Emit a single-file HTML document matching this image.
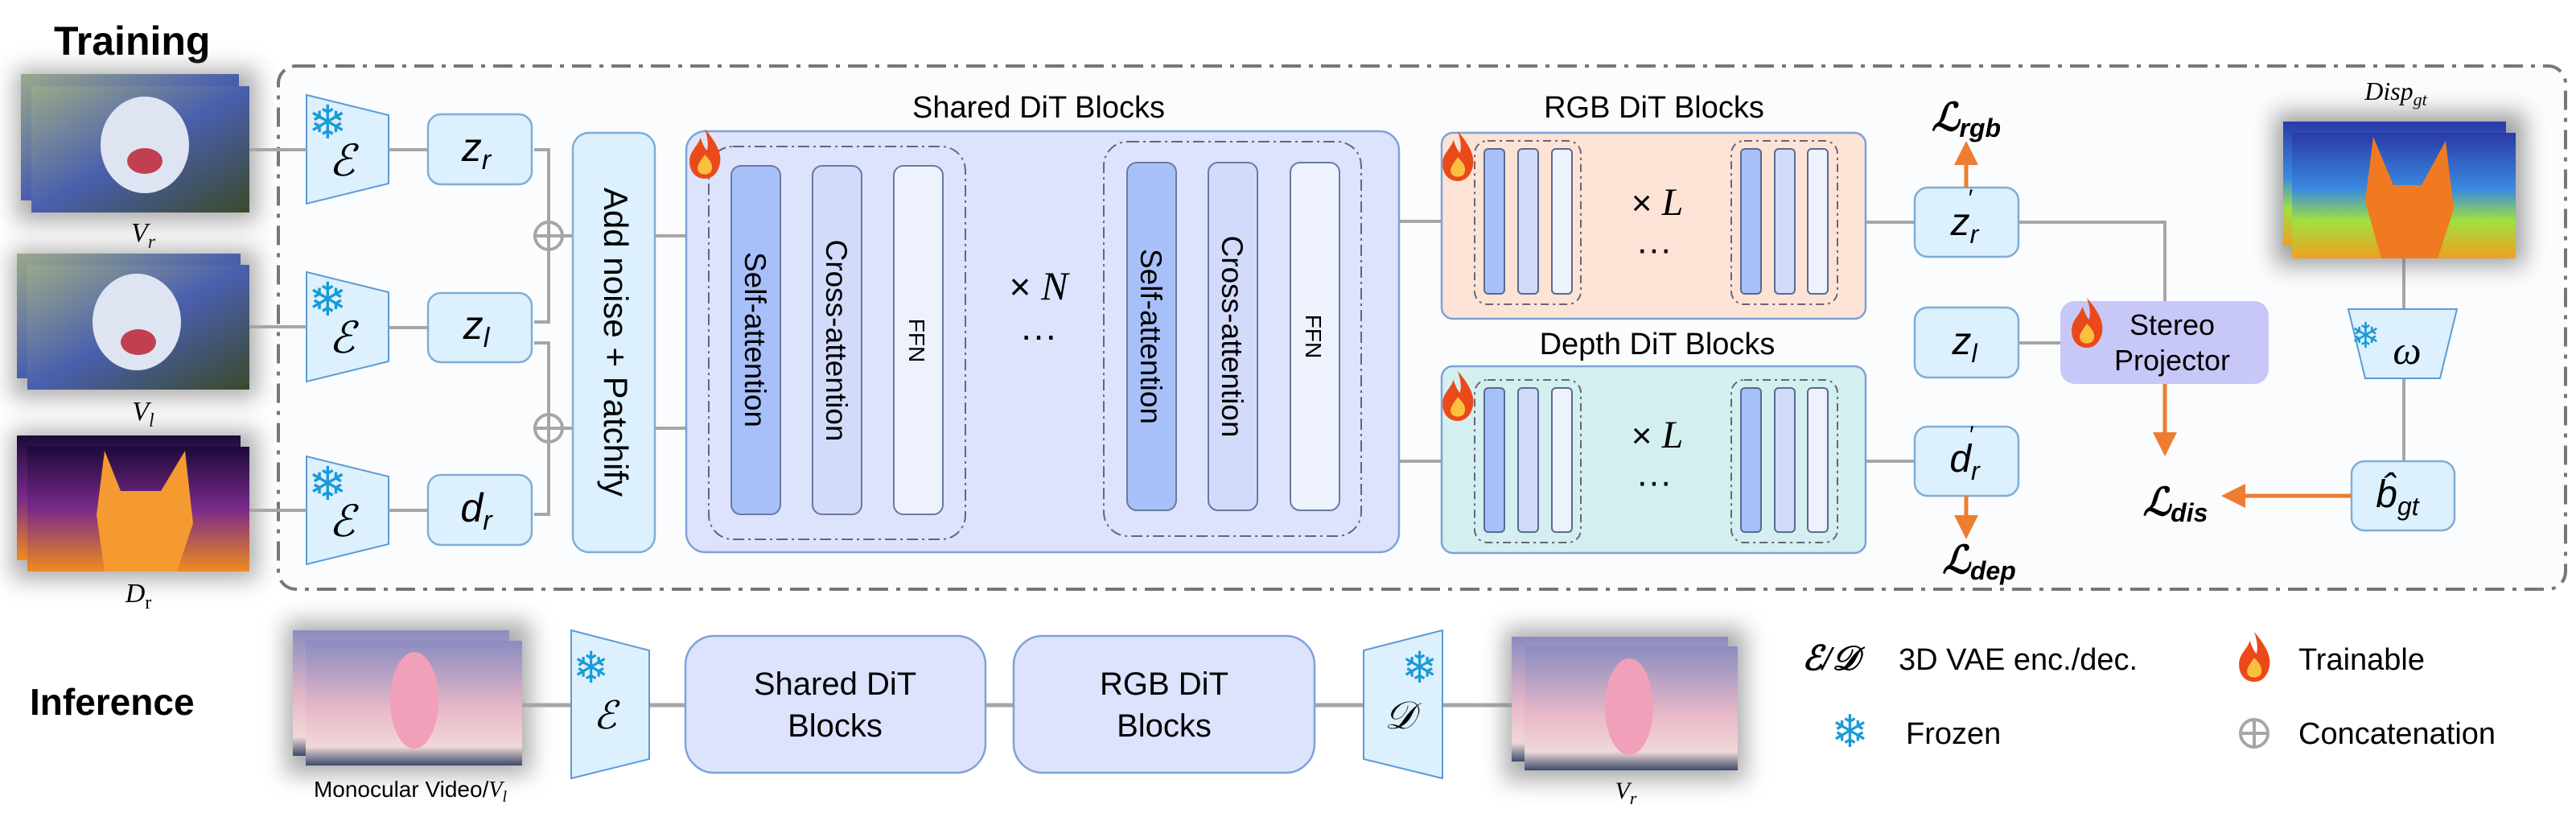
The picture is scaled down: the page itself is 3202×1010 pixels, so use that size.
<!DOCTYPE html>
<html><head><meta charset="utf-8"><style>
html,body{margin:0;padding:0;background:#fff;}
svg{display:block;}
text{font-family:"Liberation Sans",sans-serif;}
.m{font-family:"Liberation Serif","DejaVu Serif",serif;font-style:italic;}
</style></head><body>
<svg width="3202" height="1010" viewBox="0 0 3202 1010" xmlns="http://www.w3.org/2000/svg">
<defs>
<filter id="sh" x="-30%" y="-30%" width="160%" height="160%"><feGaussianBlur stdDeviation="14"/></filter>
<linearGradient id="cat" x1="0" y1="0" x2="1" y2="1"><stop offset="0" stop-color="#9aa98a"/><stop offset="0.5" stop-color="#4a5fae"/><stop offset="1" stop-color="#3a4a2a"/></linearGradient>
<linearGradient id="dep" x1="0" y1="0" x2="0" y2="1"><stop offset="0" stop-color="#1c0a3a"/><stop offset="0.5" stop-color="#7a2a8a"/><stop offset="1" stop-color="#f08a20"/></linearGradient>
<linearGradient id="disp" x1="0" y1="0" x2="0" y2="1"><stop offset="0" stop-color="#2a3aa8"/><stop offset="0.45" stop-color="#3a8ae0"/><stop offset="0.7" stop-color="#a0e040"/><stop offset="1" stop-color="#f0a020"/></linearGradient>
<linearGradient id="ani" x1="0" y1="0" x2="0" y2="1"><stop offset="0" stop-color="#8a8cc0"/><stop offset="0.55" stop-color="#e8b8c8"/><stop offset="0.85" stop-color="#f0d8d8"/><stop offset="1" stop-color="#3a4a6a"/></linearGradient>
<marker id="ar" markerWidth="6" markerHeight="6" refX="3" refY="3" orient="auto" markerUnits="strokeWidth"><path d="M0,0 L6,3 L0,6 Z" fill="#ed7d31"/></marker>
<g id="flame"><g transform="scale(1.35)"><path d="M0,-26 C10,-14 16,-4 14,6 C12,16 6,20 0,20 C-8,20 -14,14 -14,4 C-14,-6 -6,-10 -4,-18 C-2,-12 0,-8 2,-6 C4,-12 2,-20 0,-26Z" fill="#ea4a1a"/><path d="M0,-2 C6,4 8,8 6,13 C4,17 -4,17 -6,13 C-8,8 -4,4 0,-2Z" fill="#fcc040"/></g></g>
</defs>

<text x="67" y="68" font-size="50" font-weight="bold">Training</text>

<rect x="346" y="82" width="2843" height="650" rx="22" fill="#fbfcfe" stroke="#777" stroke-width="4" stroke-dasharray="24,10,5,10"/>

<g>
<rect x="20" y="86" width="300" height="190" fill="#888" filter="url(#sh)" opacity="0.7"/>
<rect x="26" y="92" width="271" height="157" fill="url(#cat)"/>
<rect x="39" y="107" width="271" height="157" fill="url(#cat)"/>
<ellipse cx="180" cy="180" rx="55" ry="60" fill="#dfe4f2"/><ellipse cx="180" cy="200" rx="22" ry="16" fill="#c04050"/>
<text x="178" y="300" font-size="34" class="m" font-style="normal" text-anchor="middle">V<tspan font-size="24" dy="8">r</tspan></text>

<rect x="15" y="310" width="305" height="185" fill="#888" filter="url(#sh)" opacity="0.7"/>
<rect x="21" y="315" width="278" height="155" fill="url(#cat)"/>
<rect x="34" y="329" width="276" height="155" fill="url(#cat)"/>
<ellipse cx="170" cy="400" rx="55" ry="60" fill="#dfe4f2"/><ellipse cx="172" cy="425" rx="22" ry="16" fill="#c04050"/>
<text x="178" y="522" font-size="34" class="m" font-style="normal" text-anchor="middle">V<tspan font-size="24" dy="8" font-style="italic">l</tspan></text>

<rect x="15" y="535" width="305" height="185" fill="#888" filter="url(#sh)" opacity="0.7"/>
<rect x="21" y="541" width="278" height="155" fill="url(#dep)"/>
<rect x="34" y="555" width="276" height="155" fill="url(#dep)"/>
<path d="M130,560 L150,610 L200,610 L230,560 L240,650 L220,710 L130,710 L120,640Z" fill="#f59a30"/>
<text x="172" y="748" font-size="34" class="m" text-anchor="middle">D<tspan font-size="24" dy="8" font-style="normal">r</tspan></text>
</g>

<g fill="#dcf0fd" stroke="#5b9bd5" stroke-width="2">
<path d="M381,118 L483,143 L483,228 L381,253Z"/>
<path d="M381,338 L483,363 L483,449 L381,474Z"/>
<path d="M381,567 L483,592 L483,676 L381,701Z"/>
</g>
<g font-size="58" fill="#1a9ad6">
<text x="383" y="172" font-family="DejaVu Sans,sans-serif">❄</text>
<text x="383" y="392" font-family="DejaVu Sans,sans-serif">❄</text>
<text x="383" y="621" font-family="DejaVu Sans,sans-serif">❄</text>
</g>
<g font-size="54" class="m" text-anchor="middle">
<text x="425" y="218">ℰ</text><text x="425" y="438">ℰ</text><text x="425" y="666">ℰ</text>
</g>

<g stroke="#a6a6a6" stroke-width="4" fill="none">
<line x1="310" y1="186" x2="381" y2="186"/>
<line x1="310" y1="406" x2="381" y2="406"/>
<line x1="310" y1="634" x2="381" y2="634"/>
<line x1="483" y1="186" x2="532" y2="186"/>
<line x1="483" y1="407" x2="532" y2="407"/>
<line x1="483" y1="634" x2="532" y2="634"/>
<polyline points="664,186 682,186 682,400 664,400"/>
<polyline points="664,426 682,426 682,639 664,639"/>
<line x1="699" y1="293" x2="712" y2="293"/>
<line x1="699" y1="532" x2="712" y2="532"/>
<circle cx="682" cy="293" r="17"/><line x1="665" y1="293" x2="699" y2="293"/>
<circle cx="682" cy="532" r="17"/><line x1="665" y1="532" x2="699" y2="532"/>
<line x1="814" y1="293" x2="909" y2="293"/>
<line x1="814" y1="532" x2="909" y2="532"/>
<line x1="1664" y1="275" x2="1845" y2="275"/>
<line x1="1664" y1="573" x2="1845" y2="573"/>
<line x1="2272" y1="276" x2="2380" y2="276"/>
<line x1="2272" y1="573" x2="2380" y2="573"/>
<polyline points="2509,276 2691,276 2691,374"/>
<line x1="2509" y1="426" x2="2561" y2="426"/>
<line x1="2988" y1="321" x2="2988" y2="384"/>
<line x1="2988" y1="470" x2="2988" y2="573"/>
</g>

<g fill="#dcf0fd" stroke="#7eaed8" stroke-width="2.5">
<rect x="532" y="142" width="129" height="87" rx="16"/>
<rect x="532" y="364" width="129" height="86" rx="16"/>
<rect x="532" y="590" width="129" height="87" rx="16"/>
<rect x="712" y="165" width="102" height="521" rx="20"/>
</g>
<g class="m" font-size="50" text-anchor="middle">
<text x="592" y="200">z<tspan font-size="34" dy="10">r</tspan></text>
<text x="592" y="421">z<tspan font-size="34" dy="10">l</tspan></text>
<text x="592" y="648">d<tspan font-size="34" dy="10">r</tspan></text>
</g>
<text transform="translate(751,425) rotate(90)" font-size="42" text-anchor="middle">Add noise + Patchify</text>

<text x="1291" y="146" font-size="38" text-anchor="middle">Shared DiT Blocks</text>
<rect x="853" y="163" width="886" height="523" rx="24" fill="#dde3fc" stroke="#7ea2d8" stroke-width="2.5"/>
<g fill="none" stroke="#667" stroke-width="2" stroke-dasharray="14,5,3,5">
<rect x="881" y="182" width="319" height="488" rx="30"/>
<rect x="1372" y="176" width="320" height="490" rx="30"/>
</g>
<g stroke="#6a7aa0" stroke-width="2">
<rect x="909" y="206" width="61" height="433" rx="12" fill="#a8c0fa"/>
<rect x="1010" y="206" width="61" height="433" rx="12" fill="#d3dbfa"/>
<rect x="1111" y="206" width="61" height="433" rx="12" fill="#eef2fd"/>
<rect x="1401" y="202" width="61" height="432" rx="12" fill="#a8c0fa"/>
<rect x="1502" y="202" width="61" height="432" rx="12" fill="#d3dbfa"/>
<rect x="1604" y="202" width="61" height="432" rx="12" fill="#eef2fd"/>
</g>
<g font-size="37" text-anchor="middle">
<text transform="translate(926,422) rotate(90)">Self-attention</text>
<text transform="translate(1027,423) rotate(90)">Cross-attention</text>
<text transform="translate(1130,423) rotate(90)" font-size="28">FFN</text>
<text transform="translate(1418,418) rotate(90)">Self-attention</text>
<text transform="translate(1519,418) rotate(90)">Cross-attention</text>
<text transform="translate(1623,418) rotate(90)" font-size="28">FFN</text>
</g>
<text x="1291" y="372" font-size="46" text-anchor="middle">× <tspan class="m" font-size="50">N</tspan></text>
<text x="1291" y="432" font-size="46" text-anchor="middle">···</text>
<use href="#flame" x="876" y="195"/>

<text x="2056" y="146" font-size="38" text-anchor="middle">RGB DiT Blocks</text>
<text x="2060" y="440" font-size="38" text-anchor="middle">Depth DiT Blocks</text>
<rect x="1792" y="165" width="527" height="231" rx="14" fill="#fde3d6" stroke="#7ea2d8" stroke-width="2.5"/>
<rect x="1792" y="455" width="527" height="232" rx="14" fill="#d3efef" stroke="#7ea2d8" stroke-width="2.5"/>
<g fill="none" stroke="#667" stroke-width="2" stroke-dasharray="10,5,3,5">
<rect x="1833" y="175" width="132" height="203" rx="16"/>
<rect x="2152" y="175" width="132" height="203" rx="16"/>
<rect x="1833" y="472" width="132" height="202" rx="16"/>
<rect x="2152" y="472" width="132" height="202" rx="16"/>
</g>
<g stroke="#5a6a90" stroke-width="2">
<rect x="1845" y="185" width="25" height="180" rx="5" fill="#a8c0fa"/>
<rect x="1887" y="185" width="25" height="180" rx="5" fill="#d3dbfa"/>
<rect x="1929" y="185" width="25" height="180" rx="5" fill="#eef2fd"/>
<rect x="2164" y="185" width="25" height="180" rx="5" fill="#a8c0fa"/>
<rect x="2206" y="185" width="25" height="180" rx="5" fill="#d3dbfa"/>
<rect x="2247" y="185" width="25" height="180" rx="5" fill="#eef2fd"/>
<rect x="1845" y="482" width="25" height="179" rx="5" fill="#a8c0fa"/>
<rect x="1887" y="482" width="25" height="179" rx="5" fill="#d3dbfa"/>
<rect x="1929" y="482" width="25" height="179" rx="5" fill="#eef2fd"/>
<rect x="2164" y="482" width="25" height="179" rx="5" fill="#a8c0fa"/>
<rect x="2206" y="482" width="25" height="179" rx="5" fill="#d3dbfa"/>
<rect x="2247" y="482" width="25" height="179" rx="5" fill="#eef2fd"/>
</g>
<g font-size="44" text-anchor="middle">
<text x="2060" y="267">× <tspan class="m" font-size="48">L</tspan></text>
<text x="2056" y="324">···</text>
<text x="2060" y="556">× <tspan class="m" font-size="48">L</tspan></text>
<text x="2056" y="613">···</text>
</g>
<use href="#flame" x="1812" y="198"/>
<use href="#flame" x="1812" y="496"/>

<g fill="#dcf0fd" stroke="#7eaed8" stroke-width="2.5">
<rect x="2380" y="233" width="129" height="86" rx="16"/>
<rect x="2380" y="382" width="129" height="87" rx="16"/>
<rect x="2380" y="530" width="129" height="86" rx="16"/>
<rect x="2923" y="573" width="128" height="86" rx="16"/>
</g>
<g class="m" font-size="48" text-anchor="middle">
<text x="2442" y="292">z<tspan font-size="32" dy="10">r</tspan><tspan font-size="30" dx="-14" dy="-46">′</tspan></text>
<text x="2442" y="440">z<tspan font-size="32" dy="10">l</tspan></text>
<text x="2442" y="586">d<tspan font-size="32" dy="10">r</tspan><tspan font-size="30" dx="-14" dy="-46">′</tspan></text>
<text x="2980" y="630">b̂<tspan font-size="32" dy="10">gt</tspan></text>
</g>

<rect x="2561" y="374" width="259" height="103" rx="18" fill="#c8c8f8"/>
<text x="2700" y="416" font-size="36" text-anchor="middle">Stereo</text>
<text x="2700" y="460" font-size="36" text-anchor="middle">Projector</text>
<use href="#flame" x="2594" y="405"/>

<g stroke="#ed7d31" stroke-width="5" fill="none">
<line x1="2444" y1="233" x2="2444" y2="190" marker-end="url(#ar)"/>
<line x1="2444" y1="616" x2="2444" y2="655" marker-end="url(#ar)"/>
<line x1="2691" y1="477" x2="2691" y2="552" marker-end="url(#ar)"/>
<line x1="2923" y1="616" x2="2776" y2="616" marker-end="url(#ar)"/>
</g>
<g class="m" font-weight="bold" font-size="48" text-anchor="middle">
<text x="2444" y="162">ℒ<tspan font-size="32" dy="8">rgb</tspan></text>
<text x="2460" y="712">ℒ<tspan font-size="32" dy="8">dep</tspan></text>
<text x="2704" y="640">ℒ<tspan font-size="32" dy="8">dis</tspan></text>
</g>

<text x="2978" y="124" class="m" font-size="32" text-anchor="middle">Disp<tspan font-size="22" dy="7">gt</tspan></text>
<rect x="2828" y="140" width="310" height="190" fill="#777" filter="url(#sh)" opacity="0.7"/>
<rect x="2838" y="151" width="277" height="154" fill="url(#disp)"/>
<rect x="2849" y="165" width="278" height="156" fill="url(#disp)"/>
<path d="M2950,170 L2975,230 L3010,230 L3040,175 L3050,260 L3030,321 L2960,321 L2940,250Z" fill="#f07a20"/>

<path d="M2919,384 L3054,384 L3033,470 L2940,470Z" fill="#dcf0fd" stroke="#5b9bd5" stroke-width="2"/>
<text x="2922" y="432" font-size="44" fill="#1a9ad6" font-family="DejaVu Sans,sans-serif">❄</text>
<text x="2992" y="452" class="m" font-size="50" text-anchor="middle">ω</text>

<text x="37" y="888" font-size="46" font-weight="bold">Inference</text>
<rect x="355" y="772" width="305" height="190" fill="#888" filter="url(#sh)" opacity="0.7"/>
<rect x="364" y="783" width="269" height="156" fill="url(#ani)"/>
<rect x="380" y="796" width="269" height="155" fill="url(#ani)"/>
<ellipse cx="515" cy="870" rx="30" ry="60" fill="#f0a0b8"/>
<text x="510" y="990" font-size="28" text-anchor="middle">Monocular Video/<tspan class="m" font-style="normal">V</tspan><tspan class="m" font-size="20" dy="6">l</tspan></text>

<g stroke="#a6a6a6" stroke-width="5">
<line x1="649" y1="876" x2="710" y2="876"/>
<line x1="807" y1="876" x2="852" y2="876"/>
<line x1="1225" y1="876" x2="1260" y2="876"/>
<line x1="1634" y1="876" x2="1695" y2="876"/>
<line x1="1793" y1="876" x2="1895" y2="876"/>
</g>
<path d="M710,783 L807,808 L807,943 L710,967Z" fill="#dcf0fd" stroke="#5b9bd5" stroke-width="2"/>
<path d="M1695,808 L1793,783 L1793,967 L1695,943Z" fill="#dcf0fd" stroke="#5b9bd5" stroke-width="2"/>
<text x="712" y="848" font-size="54" fill="#1a9ad6" font-family="DejaVu Sans,sans-serif">❄</text>
<text x="1742" y="848" font-size="54" fill="#1a9ad6" font-family="DejaVu Sans,sans-serif">❄</text>
<text x="752" y="905" class="m" font-size="48" text-anchor="middle">ℰ</text>
<text x="1740" y="905" class="m" font-size="48" text-anchor="middle">𝒟</text>

<rect x="852" y="790" width="373" height="170" rx="36" fill="#dde3fc" stroke="#7ea2d8" stroke-width="2.5"/>
<rect x="1260" y="790" width="374" height="170" rx="36" fill="#dde3fc" stroke="#7ea2d8" stroke-width="2.5"/>
<g font-size="40" text-anchor="middle">
<text x="1038" y="863">Shared DiT</text><text x="1038" y="915">Blocks</text>
<text x="1447" y="863">RGB DiT</text><text x="1447" y="915">Blocks</text>
</g>

<rect x="1870" y="780" width="300" height="190" fill="#888" filter="url(#sh)" opacity="0.7"/>
<rect x="1879" y="791" width="269" height="155" fill="url(#ani)"/>
<rect x="1895" y="803" width="265" height="154" fill="url(#ani)"/>
<ellipse cx="2025" cy="878" rx="30" ry="60" fill="#f0a0b8"/>
<text x="2021" y="992" font-size="30" class="m" font-style="normal" text-anchor="middle">V<tspan font-size="22" dy="7">r</tspan></text>

<text x="2240" y="832" font-size="42" class="m" font-weight="bold">ℰ/𝒟</text>
<text x="2360" y="832" font-size="38">3D VAE enc./dec.</text>
<use href="#flame" x="2802" y="820"/>
<text x="2857" y="832" font-size="38">Trainable</text>
<text x="2276" y="928" font-size="56" fill="#1a9ad6" font-family="DejaVu Sans,sans-serif">❄</text>
<text x="2369" y="924" font-size="38">Frozen</text>
<circle cx="2802" cy="911" r="17" fill="none" stroke="#a6a6a6" stroke-width="4"/>
<line x1="2785" y1="911" x2="2819" y2="911" stroke="#a6a6a6" stroke-width="4"/>
<line x1="2802" y1="894" x2="2802" y2="928" stroke="#a6a6a6" stroke-width="4"/>
<text x="2857" y="924" font-size="38">Concatenation</text>
</svg>
</body></html>
